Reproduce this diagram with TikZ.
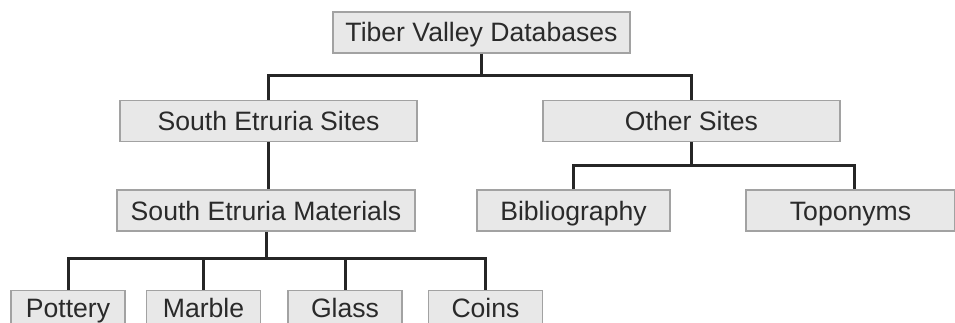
\documentclass[tikz,border=0pt]{standalone}
\usepackage{fontspec}
\setmainfont{Liberation Sans}
\usetikzlibrary{positioning}

\definecolor{boxfill}{HTML}{E8E8E8}
\definecolor{boxline}{HTML}{A2A2A2}
\definecolor{labeltext}{HTML}{2A2A2A}

\begin{document}
\begin{tikzpicture}[x=1pt,y=-1pt,
    dbbox/.style={rectangle, draw=boxline, line width=1.5pt, fill=boxfill, text=labeltext,
      inner sep=0pt, minimum width=297pt, minimum height=41pt,
      text height=19pt, text depth=0pt,
      font=\fontsize{26.6}{30}\selectfont},
    leafbox/.style={dbbox, minimum width=114pt, text depth=6pt},
    branch/.style={draw=black!85, line width=3pt}]
        \clip (0,0) rectangle (955,323);
        \useasboundingbox (0,0) rectangle (955,323);

        % Nodes
        \node [dbbox] (top) at (481.5,32.5) {Tiber Valley Databases};
        \node [dbbox, below=46pt of top, xshift=-213pt] (sesites) {South Etruria Sites};
        \node [dbbox, below=46pt of top, xshift=210pt] (other) {Other Sites};

        \node [dbbox, below=47pt of sesites, xshift=-2.5pt, minimum width=298pt] (sematerials) {South Etruria Materials};
        \node [dbbox, below=47pt of other, xshift=-118pt, minimum width=193pt] (biblio) {Bibliography};
        \node [dbbox, below=47pt of other, xshift=159pt, minimum width=209pt] (toponyms) {Toponyms};

        \node [leafbox, below=58pt of sematerials, xshift=-198pt] (pottery) {Pottery};
        \node [leafbox, right=20pt of pottery] (marble) {Marble};
        \node [leafbox, right=26pt of marble] (glass) {Glass};
        \node [leafbox, right=25pt of glass] (coins) {Coins};

        % Connectors
        \draw [branch] (top.south) -- ++(0,22) coordinate (j1);
        \draw [branch] (sesites.north) |- (j1) -| (other.north);

        \draw [branch] (sesites.south) -- (sesites.south |- sematerials.north);

        \draw [branch] (other.south) -- ++(0,23) coordinate (j2);
        \draw [branch] (biblio.north) |- (j2) -| ([xshift=4pt]toponyms.north);

        \draw [branch] (sematerials.south) -- ++(0,27) coordinate (j3);
        \draw [branch] (pottery.north) |- (j3) -| (coins.north);
        \draw [branch] (marble.north) -- (marble.north |- j3);
        \draw [branch] (glass.north) -- (glass.north |- j3);

\end{tikzpicture}
\end{document}
